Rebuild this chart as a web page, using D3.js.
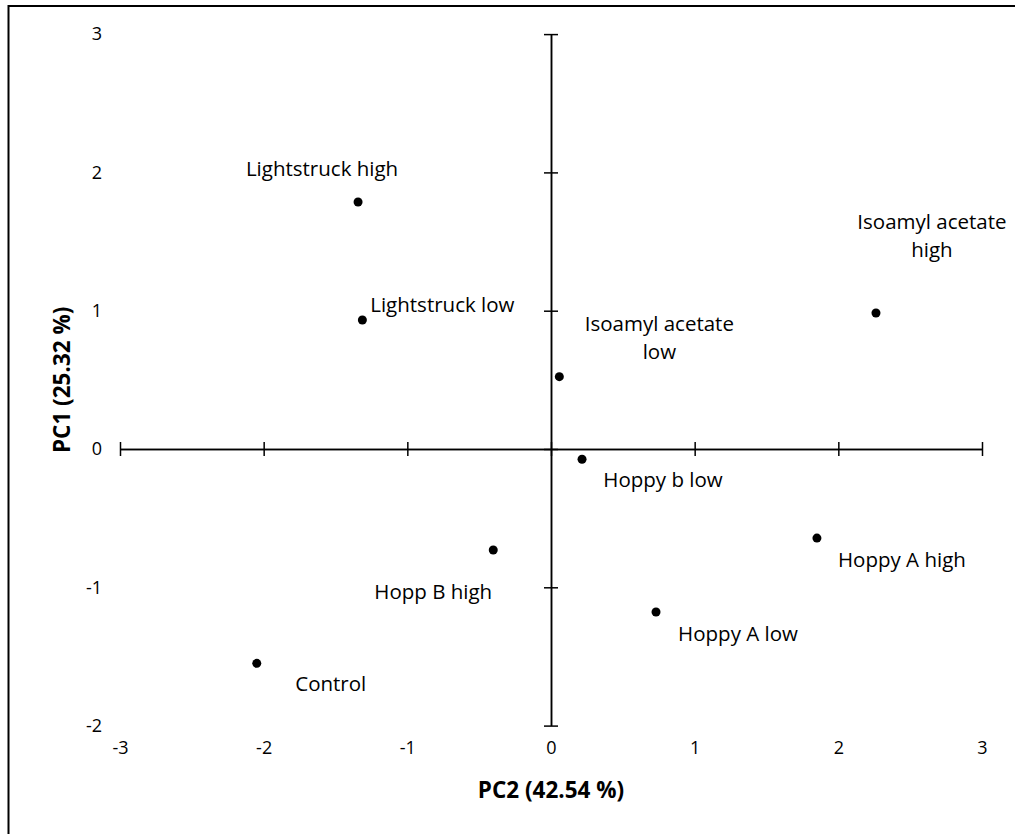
<!DOCTYPE html>
<html>
<head>
<meta charset="utf-8">
<script src="https://cdn.jsdelivr.net/npm/d3@7"></script>
<style>
  body { margin: 0; background: #fff; }
  svg { display: block; }
  svg text { font-family: "Open Sans", Lato, sans-serif; }
  .axis path, .axis line { stroke: #000; stroke-width: 1.5; }
  .ticklab text { font-size: 18px; fill: #000; }
  .lab { font-size: 20.5px; fill: #000; }
  .title { font-size: 22.5px; font-weight: bold; fill: #000; }
</style>
</head>
<body>
<svg id="chart"></svg>
<script>
// ---- DATA ---- //
const samples = ["Lightstruck high", "Lightstruck low", "Isoamyl acetate low", "Isoamyl acetate high",
  "Hoppy b low", "Hopp B high", "Hoppy A high", "Hoppy A low", "Control"];
const pc2Values = [-1.343, -1.313, 0.058, 2.262, 0.216, -0.402, 1.851, 0.731, -2.048];
const pc1Values = [1.786, 0.933, 0.523, 0.983, -0.074, -0.730, -0.644, -1.179, -1.550];
const xTicks = [-3, -2, -1, 0, 1, 2, 3];
const yTicks = [-2, -1, 0, 1, 2, 3];
const xTitle = "PC2 (42.54 %)";
const yTitle = "PC1 (25.32 %)";

// label placement (pixels from the point; multi-line labels split on \n)
const labelLayout = [
  {dx: -36, dy: -33, text: "Lightstruck high"},
  {dx: 80, dy: -15, text: "Lightstruck low"},
  {dx: 100, dy: -39, text: "Isoamyl acetate\nlow"},
  {dx: 56, dy: -77, text: "Isoamyl acetate\nhigh"},
  {dx: 81, dy: 21, text: "Hoppy b low"},
  {dx: -60, dy: 42, text: "Hopp B high"},
  {dx: 85, dy: 22, text: "Hoppy A high"},
  {dx: 82, dy: 22, text: "Hoppy A low"},
  {dx: 74, dy: 20, text: "Control"}
];

// ---- THE CHART ---- //
const W = 1015, H = 834;
const svg = d3.select("#chart")
  .attr("width", W)
  .attr("height", H);

// outer frame (runs off the right/bottom edge like the reference)
svg.append("rect")
  .attr("x", 8.5).attr("y", 6)
  .attr("width", 1012).attr("height", 834)
  .attr("fill", "none")
  .attr("stroke", "#000")
  .attr("stroke-width", 2);

const xScale = d3.scaleLinear().domain([-3, 3]).range([120, 982]);
const yScale = d3.scaleLinear().domain([-2, 3]).range([725.6, 34.1]);

// x axis through y=0, ticks crossing the line
svg.append("g").attr("class", "axis")
  .attr("transform", "translate(0," + yScale(0) + ")")
  .call(d3.axisBottom(xScale).tickValues(xTicks).tickSize(7).tickSizeOuter(0).tickFormat(""));
svg.append("g").attr("class", "axis")
  .attr("transform", "translate(0," + yScale(0) + ")")
  .call(d3.axisTop(xScale).tickValues(xTicks).tickSize(7).tickSizeOuter(0).tickFormat(""));

// y axis through x=0
svg.append("g").attr("class", "axis")
  .attr("transform", "translate(" + xScale(0) + ",0)")
  .call(d3.axisLeft(yScale).tickValues(yTicks).tickSize(7).tickSizeOuter(0).tickFormat(""));
svg.append("g").attr("class", "axis")
  .attr("transform", "translate(" + xScale(0) + ",0)")
  .call(d3.axisRight(yScale).tickValues(yTicks).tickSize(7).tickSizeOuter(0).tickFormat(""));

// tick labels sit at the plot edges ("low" position), plain hyphen minus
const fmt = d => String(d);
const xLab = svg.append("g").attr("class", "ticklab")
  .attr("transform", "translate(0,741)")
  .call(d3.axisBottom(xScale).tickValues(xTicks).tickSize(0).tickFormat(fmt));
xLab.select(".domain").remove();
xLab.selectAll("text").attr("dy", "0.71em").attr("y", 0);

const yLab = svg.append("g").attr("class", "ticklab")
  .attr("transform", "translate(102,0)")
  .call(d3.axisLeft(yScale).tickValues(yTicks).tickSize(0).tickFormat(fmt));
yLab.select(".domain").remove();
yLab.selectAll("text").attr("x", 0);

// axis titles
svg.append("text").attr("class", "title")
  .attr("x", xScale(0)).attr("y", 798)
  .attr("text-anchor", "middle")
  .text(xTitle);
svg.append("text").attr("class", "title")
  .attr("transform", "translate(70," + (yScale(-2) + yScale(3)) / 2 + ") rotate(-90)")
  .attr("text-anchor", "middle")
  .text(yTitle);

// points
const pts = samples.map((s, i) => ({name: s, x: pc2Values[i], y: pc1Values[i], lab: labelLayout[i]}));

svg.selectAll("circle.pt")
  .data(pts)
  .enter().append("circle")
    .attr("class", "pt")
    .attr("cx", d => xScale(d.x))
    .attr("cy", d => yScale(d.y))
    .attr("r", 4.5)
    .attr("fill", "#000");

// labels
const labs = svg.selectAll("text.lab")
  .data(pts)
  .enter().append("text")
    .attr("class", "lab")
    .attr("text-anchor", "middle")
    .attr("x", d => xScale(d.x) + d.lab.dx)
    .attr("y", d => yScale(d.y) + d.lab.dy);

labs.each(function(d) {
  const lines = d.lab.text.split("\n");
  const t = d3.select(this);
  lines.forEach((ln, k) => {
    t.append("tspan")
      .attr("x", xScale(d.x) + d.lab.dx)
      .attr("dy", k === 0 ? (0.35 - (lines.length - 1) * 0.68) + "em" : "1.36em")
      .text(ln);
  });
});
</script>
</body>
</html>
